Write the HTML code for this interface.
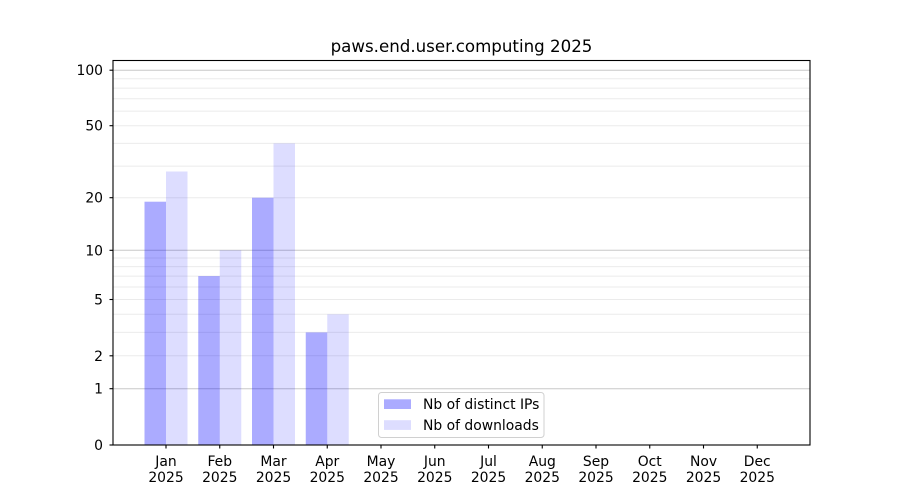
<!DOCTYPE html>
<html><head><meta charset="utf-8"><style>
html,body{margin:0;padding:0;background:#fff;}
svg{display:block;font-family:"DejaVu Sans","Liberation Sans",sans-serif;}
</style></head><body>
<svg width="900" height="500" viewBox="0 0 900 500" xmlns="http://www.w3.org/2000/svg">
<rect x="0" y="0" width="900" height="500" fill="#fff"/>
<!-- minor grid -->
<g stroke="#ebebeb" stroke-width="1">
<line x1="113" x2="810" y1="355.8" y2="355.8"/>
<line x1="113" x2="810" y1="332.4" y2="332.4"/>
<line x1="113" x2="810" y1="314.3" y2="314.3"/>
<line x1="113" x2="810" y1="299.5" y2="299.5"/>
<line x1="113" x2="810" y1="287.0" y2="287.0"/>
<line x1="113" x2="810" y1="276.1" y2="276.1"/>
<line x1="113" x2="810" y1="266.6" y2="266.6"/>
<line x1="113" x2="810" y1="258.0" y2="258.0"/>
<line x1="113" x2="810" y1="197.7" y2="197.7"/>
<line x1="113" x2="810" y1="166.1" y2="166.1"/>
<line x1="113" x2="810" y1="143.4" y2="143.4"/>
<line x1="113" x2="810" y1="125.7" y2="125.7"/>
<line x1="113" x2="810" y1="111.1" y2="111.1"/>
<line x1="113" x2="810" y1="98.8" y2="98.8"/>
<line x1="113" x2="810" y1="88.1" y2="88.1"/>
<line x1="113" x2="810" y1="78.7" y2="78.7"/>
</g>
<!-- major grid -->
<g stroke="#c8c8c8" stroke-width="1">
<line x1="113" x2="810" y1="388.7" y2="388.7"/>
<line x1="113" x2="810" y1="250.3" y2="250.3"/>
<line x1="113" x2="810" y1="70.2" y2="70.2"/>
</g>
<!-- bars -->
<g fill="#0000ff" fill-opacity="0.33">
<rect x="144.5" y="201.7" width="21.5" height="243.3"/>
<rect x="198.25" y="276.1" width="21.5" height="168.9"/>
<rect x="252" y="197.7" width="21.5" height="247.3"/>
<rect x="305.75" y="332.4" width="21.5" height="112.6"/>
</g>
<g fill="#0000ff" fill-opacity="0.135">
<rect x="166" y="171.5" width="21.5" height="273.5"/>
<rect x="219.75" y="250.3" width="21.5" height="194.7"/>
<rect x="273.5" y="143.4" width="21.5" height="301.6"/>
<rect x="327.25" y="314.3" width="21.5" height="130.7"/>
</g>
<!-- spines -->
<rect x="113" y="60.5" width="697" height="384.5" fill="none" stroke="#000" stroke-width="1.1"/>
<!-- y ticks -->
<g stroke="#000" stroke-width="1.1">
<line x1="109.5" x2="113" y1="445" y2="445"/>
<line x1="109.5" x2="113" y1="388.7" y2="388.7"/>
<line x1="109.5" x2="113" y1="355.8" y2="355.8"/>
<line x1="109.5" x2="113" y1="299.5" y2="299.5"/>
<line x1="109.5" x2="113" y1="250.3" y2="250.3"/>
<line x1="109.5" x2="113" y1="197.7" y2="197.7"/>
<line x1="109.5" x2="113" y1="125.7" y2="125.7"/>
<line x1="109.5" x2="113" y1="70.2" y2="70.2"/>
</g>
<g font-size="13.9" fill="#000" text-anchor="end">
<text x="103" y="450">0</text>
<text x="103" y="393.7">1</text>
<text x="103" y="360.8">2</text>
<text x="103" y="304.5">5</text>
<text x="103" y="255.3">10</text>
<text x="103" y="202.7">20</text>
<text x="103" y="130.7">50</text>
<text x="103" y="75.2">100</text>
</g>
<!-- x ticks -->
<g stroke="#000" stroke-width="1.1">
<line x1="166" x2="166" y1="445" y2="448.5"/>
<line x1="219.75" x2="219.75" y1="445" y2="448.5"/>
<line x1="273.5" x2="273.5" y1="445" y2="448.5"/>
<line x1="327.25" x2="327.25" y1="445" y2="448.5"/>
<line x1="381" x2="381" y1="445" y2="448.5"/>
<line x1="434.75" x2="434.75" y1="445" y2="448.5"/>
<line x1="488.5" x2="488.5" y1="445" y2="448.5"/>
<line x1="542.25" x2="542.25" y1="445" y2="448.5"/>
<line x1="596" x2="596" y1="445" y2="448.5"/>
<line x1="649.75" x2="649.75" y1="445" y2="448.5"/>
<line x1="703.5" x2="703.5" y1="445" y2="448.5"/>
<line x1="757.25" x2="757.25" y1="445" y2="448.5"/>
</g>
<g font-size="13.9" fill="#000" text-anchor="middle">
<text x="166" y="466">Jan</text><text x="166" y="482">2025</text>
<text x="219.75" y="466">Feb</text><text x="219.75" y="482">2025</text>
<text x="273.5" y="466">Mar</text><text x="273.5" y="482">2025</text>
<text x="327.25" y="466">Apr</text><text x="327.25" y="482">2025</text>
<text x="381" y="466">May</text><text x="381" y="482">2025</text>
<text x="434.75" y="466">Jun</text><text x="434.75" y="482">2025</text>
<text x="488.5" y="466">Jul</text><text x="488.5" y="482">2025</text>
<text x="542.25" y="466">Aug</text><text x="542.25" y="482">2025</text>
<text x="596" y="466">Sep</text><text x="596" y="482">2025</text>
<text x="649.75" y="466">Oct</text><text x="649.75" y="482">2025</text>
<text x="703.5" y="466">Nov</text><text x="703.5" y="482">2025</text>
<text x="757.25" y="466">Dec</text><text x="757.25" y="482">2025</text>
</g>
<!-- title -->
<text x="461.5" y="52" font-size="16.67" text-anchor="middle" fill="#000">paws.end.user.computing 2025</text>
<!-- legend -->
<rect x="378.5" y="392.5" width="165.5" height="45" rx="3" ry="3" fill="#fff" fill-opacity="0.8" stroke="#d0d0d0" stroke-width="1"/>
<rect x="384" y="399.3" width="27" height="9.7" fill="#0000ff" fill-opacity="0.33"/>
<rect x="384" y="420.2" width="27" height="9.7" fill="#0000ff" fill-opacity="0.135"/>
<g font-size="13.9" fill="#000">
<text x="423" y="409">Nb of distinct IPs</text>
<text x="423" y="430">Nb of downloads</text>
</g>
</svg>
</body></html>
